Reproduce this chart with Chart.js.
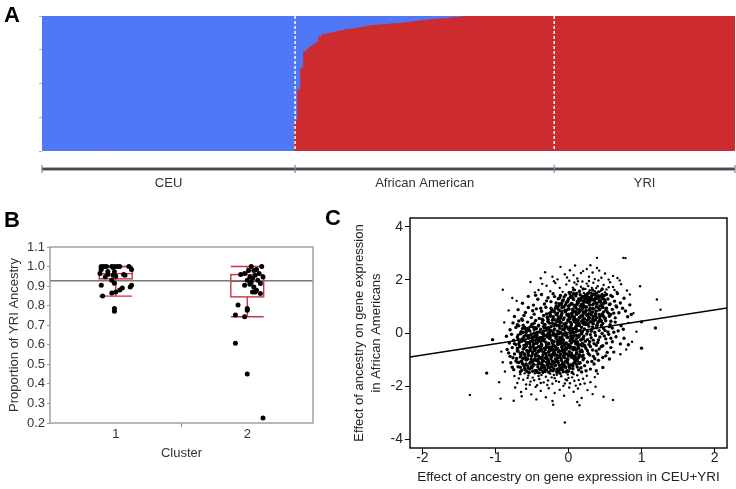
<!DOCTYPE html>
<html>
<head>
<meta charset="utf-8">
<script src="https://cdn.jsdelivr.net/npm/chart.js@4.4.1/dist/chart.umd.min.js"></script>
<style>
  html, body { margin: 0; padding: 0; background: #fff; }
  body { width: 736px; height: 489px; position: relative; overflow: hidden; }
  canvas { position: absolute; }
  .panel-letter { position: absolute; font: bold 22px "Liberation Sans", Arial, sans-serif; line-height: 22px; color: #000; }
</style>
</head>
<body>
<canvas id="chartA" width="736" height="200" style="left:0;top:0"></canvas>
<canvas id="chartB" width="325" height="289" style="left:0;top:200px"></canvas>
<canvas id="chartC" width="406" height="289" style="left:330px;top:200px"></canvas>
<div class="panel-letter" style="left:4px;top:4px">A</div>
<div class="panel-letter" style="left:4px;top:209px">B</div>
<div class="panel-letter" style="left:325px;top:207px">C</div>
<script>
// ---------- Panel A: proportion of YRI ancestry per individual ----------
const groupNames = ['CEU', 'African American', 'YRI'];
const ceuYri = [0,0,0,0,0,0,0,0,0,0,0,0,0,0,0,0,0,0,0,0,0,0,0,0,0,0,0,0,0,0,0,0,0,0,0,0,0,0,0,0,0,0,
  0,0,0,0,0,0,0,0,0,0,0,0,0,0,0,0,0,0,0,0,0,0,0,0,0,0,0,0,0,0,0,0,0,0,0,0,0,0,0,0,0,0];
const aaYri = [0.22,0.45,0.61,0.73,0.75,0.77,0.78,0.80,0.84,0.86,
  0.86,0.867,0.87,0.876,0.88,0.886,0.89,0.896,0.896,0.90,
  0.905,0.909,0.912,0.916,0.92,0.924,0.926,0.928,0.93,0.932,
  0.933,0.935,0.937,0.938,0.94,0.942,0.945,0.948,0.95,0.953,
  0.956,0.96,0.962,0.964,0.966,0.968,0.97,0.972,0.974,0.976,
  0.978,0.98,0.982,0.984,0.986,0.988,0.99,0.992,0.994,0.996,
  0.997,0.998,0.999,1,1,1,1,1,1,1,1,1,1,1,1,1,1,1,1,1,1,1,1,1,1,1];
const yriYri = [1,1,1,1,1,1,1,1,1,1,1,1,1,1,1,1,1,1,1,1,1,1,1,1,1,1,1,1,1,1,
  1,1,1,1,1,1,1,1,1,1,1,1,1,1,1,1,1,1,1,1,1,1,1,1,1,1,1,1,1,1];
const aTicksY = [0, 0.25, 0.5, 0.75, 1];

// ---------- Panel B: YRI ancestry by cluster ----------
const clusters = [1, 2];
const bTicksY = [0.2, 0.3, 0.4, 0.5, 0.6, 0.7, 0.8, 0.9, 1.0, 1.1];
const cluster1Pts = [[0.89,1.00],[0.91,1.00],[0.93,1.00],[0.97,1.00],[0.99,1.00],[1.01,1.00],[1.03,1.00],[1.10,1.00],[0.98,0.995],
  [0.89,0.985],[1.12,0.985],[0.94,0.975],[0.99,0.973],[0.88,0.965],[0.94,0.96],[1.06,0.96],[0.98,0.955],[0.92,0.948],[1.07,0.956],[1.00,0.95],
  [0.97,0.93],[0.99,0.915],[0.89,0.905],[1.12,0.905],[1.11,0.895],[1.05,0.89],[1.03,0.88],[0.97,0.865],[0.90,0.85],[1.00,0.87],[0.99,0.785],[0.99,0.772]];
const cluster2Pts = [[2.11,1.00],[2.03,1.00],[2.07,0.985],[2.05,0.98],[2.01,0.98],[1.98,0.965],[1.95,0.96],[2.09,0.965],[2.12,0.947],[2.02,0.947],
  [2.04,0.94],[2.00,0.93],[2.02,0.91],[2.05,0.896],[1.98,0.905],[2.10,0.913],[2.07,0.879],[2.10,0.862],[2.06,0.87],[2.03,0.92],[2.08,0.93],
  [1.93,0.803],[2.00,0.786],[2.00,0.776],[1.91,0.752],[1.98,0.743],[1.91,0.608],[2.00,0.451],[2.12,0.225],[2.04,0.87],[2.06,0.955]];
const boxLow = [0.849, 0.743];
const boxQ1 = [0.937, 0.845];
const boxMedian = [0.964, 0.925];
const boxQ3 = [1.0, 0.959];
const boxHigh = [1.0, 1.0];
const grandMean = 0.927;

// ---------- Panel C: ancestry effect on expression, per gene ----------
const cTicksX = [-2, -1, 0, 1, 2];
const cTicksY = [-4, -2, 0, 2, 4];
const fitSlope = 0.425;
const fitIntercept = 0.02;
// sparse outer part of the cloud
const cloudHigh = [[.39,2.83],[.75,2.83],[.78,2.82],[-.11,2.49],[.09,2.54],[-.32,2.29],[.39,2.45],[.50,2.24],[.20,2.33],[.28,2.12],[-.05,2.21],[.12,2.05],[.33,2.28],[-.22,2.12],
  [.45,2.08],[.02,2.36],[.61,2.15],[-.15,2.02],[.25,2.41],[.07,2.18],[.55,2.01],[-.38,2.06],[.17,2.26],[.36,2.03],[-.02,2.09],[.67,2.07],[.42,2.35],[.30,2.55]];
const cloudUpper = [[-.52,1.92],[-.41,1.62],[-.30,1.78],[-.18,1.88],[-.08,1.55],[.01,1.97],[.06,1.71],[.11,1.83],[.15,1.59],[.19,1.94],[.23,1.66],[.27,1.77],[.31,1.52],
  [.34,1.89],[.38,1.69],[.41,1.98],[.44,1.58],[.48,1.81],[.52,1.64],[.57,1.91],[.61,1.73],[.66,1.55],[.72,1.84],[.80,1.60],[-.25,1.57],[-.12,1.70],[-.03,1.83],[.04,1.54],
  [.09,1.62],[.13,1.95],[.17,1.74],[.21,1.51],[.25,1.86],[.29,1.61],[.32,1.70],[.36,1.57],[.40,1.76],[.46,1.67],[.50,1.53],[.55,1.72],[-.46,1.53],[-.20,1.95],[.70,1.98],
  [.63,1.62],[-.36,1.85],[.08,1.90],[.28,1.96]];
const cloudLow = [[-.74,-1.62],[-.70,-1.88],[-.66,-1.55],[-.62,-1.76],[-.58,-1.94],[-.55,-1.60],[-.52,-1.83],[-.49,-1.68],[-.46,-1.52],[-.43,-1.97],[-.40,-1.73],
  [-.37,-1.58],[-.34,-1.86],[-.31,-1.65],[-.28,-1.79],[-.25,-1.53],[-.22,-1.91],[-.19,-1.70],[-.16,-1.57],[-.13,-1.84],[-.10,-1.63],[-.07,-1.99],[-.04,-1.75],[-.01,-1.56],
  [.02,-1.89],[.05,-1.67],[.08,-1.80],[.12,-1.59],[.16,-1.93],[.20,-1.72],[.25,-1.61],[.30,-1.85],[.36,-1.66],[-.68,-1.71],[-.60,-1.52],[-.53,-1.95],[-.47,-1.78],[-.41,-1.62],
  [-.35,-1.50],[-.29,-1.96],[-.23,-1.67],[-.17,-1.81],[-.11,-1.54],[-.05,-1.90],[.00,-1.69],[.07,-1.55],[.14,-1.77],[.22,-1.90],[.40,-1.53],[-.95,-1.85],[-.56,-1.69],
  [-.38,-1.88],[-.20,-1.58],[-.02,-1.78],[.10,-1.98]];
const cloudBottom = [[-.73,-2.05],[-.65,-2.22],[-.58,-2.10],[-.51,-2.31],[-.45,-2.03],[-.38,-2.18],[-.31,-2.42],[-.27,-2.08],[-.19,-2.26],[-.12,-2.14],[-.06,-2.36],
  [.01,-2.05],[.07,-2.21],[.13,-2.09],[.18,-2.45],[.26,-2.15],[.33,-2.30],[.12,-2.60],[-.44,-2.50],[-.64,-2.38],[-1.35,-2.33],[-.93,-2.47],[-.75,-2.55],[-.22,-2.56],
  [.15,-2.72],[-.21,-2.70],[.61,-2.52],[.48,-2.40],[-.05,-3.37],[.37,-2.02]];
const cloudEdges = [[.98,1.76],[1.21,1.26],[1.26,.88],[.84,1.45],[.89,.75],[.82,.38],[.93,.05],[.87,-.33],[.79,-.62],[.71,-.80],
  [-.90,1.63],[-.77,1.32],[-.71,1.21],[-.82,.85],[-.88,.40],[-.92,-.70],[-.90,-1.10],[-.87,-1.45]];
// body of the cloud
const cloudUpperMid = [[-.63,1.12],[-.55,1.38],[-.48,1.05],[-.42,1.27],[-.37,1.45],[-.33,1.09],[-.28,1.33],[-.24,1.18],[-.21,1.48],[-.17,1.02],[-.14,1.29],[-.11,1.41],
  [-.09,1.14],[-.06,1.36],[-.04,1.07],[-.01,1.22],[.02,1.47],[.04,1.11],[.06,1.31],[.08,1.04],[.10,1.39],[.12,1.19],[.14,1.26],[.16,1.44],[.18,1.08],[.19,1.33],[.21,1.16],
  [.23,1.27],[.24,1.42],[.26,1.21],[.27,1.29],[.28,1.13],[.30,1.35],[.31,1.25],[.33,1.06],[.34,1.47],[.36,1.19],[.37,1.31],[.39,1.10],[.41,1.40],[.43,1.23],[.45,1.03],
  [.47,1.34],[.49,1.15],[.52,1.45],[.54,1.28],[.57,1.09],[.60,1.37],[.63,1.20],[.67,1.49],[.71,1.13],[.76,1.31],[.84,1.06],[-.07,1.24],[-.19,1.37],[.00,1.01],[.07,1.48],
  [.13,1.12],[.17,1.23],[.22,1.38],[.25,1.32],[.29,1.18],[.32,1.44],[.35,1.27],[.38,1.37],[.44,1.16],[.50,1.24],[.58,1.41],[-.30,1.21],[-.45,1.42],[.11,1.06],[.03,1.37],
  [.20,1.02],[.26,1.46],[.40,1.30],[.46,1.45],[.65,1.02],[-.13,1.10]];
const cloudMid = [[-.74,.62],[-.69,.88],[-.64,.53],[-.59,.77],[-.55,.96],[-.51,.58],[-.47,.71],[-.44,.91],[-.40,.55],[-.37,.82],[-.34,.66],[-.31,.97],[-.28,.52],[-.26,.75],
  [-.23,.88],[-.21,.61],[-.18,.93],[-.16,.70],[-.14,.54],[-.12,.84],[-.10,.65],[-.08,.99],[-.06,.57],[-.04,.79],[-.02,.68],[.00,.91],[.02,.53],[.04,.74],[.06,.86],[.08,.60],
  [.10,.95],[.11,.71],[.13,.50],[.15,.82],[.17,.64],[.19,.92],[.21,.56],[.23,.77],[.25,.98],[.27,.62],[.29,.85],[.31,.69],[.33,.51],[.35,.90],[.37,.73],[.39,.58],[.42,.87],
  [.44,.66],[.47,.96],[.50,.54],[.53,.80],[.56,.63],[.60,.89],[.64,.57],[.69,.76],[.74,.93],[.81,.61],[-.29,.60],[-.19,.79],[-.09,.73],[.01,.62],[.07,.79],[.12,.90],
  [.16,.57],[.20,.70],[.24,.84],[.28,.55],[.32,.78],[.36,.64],[.40,.97],[.46,.72],[.52,.93],[.58,.70],[-.49,.84],[-.38,.93],[-.15,.97],[-.03,.86],[.05,.66],[.14,.76],
  [.22,.99],[.30,.93],[.34,.60],[.43,.52],[.62,.75],[-.61,.66],[-.25,.68],[-.11,.56],[.09,.52],[.18,.87],[.26,.69],[.48,.61],[.66,.98],[.78,.83],[.86,.70]];
const cloudCentre = [[-.80,.12],[-.76,.38],[-.72,.21],[-.68,.45],[-.65,.05],[-.62,.29],[-.59,.17],[-.56,.41],[-.53,.08],[-.50,.33],[-.48,.22],[-.45,.47],[-.43,.02],
  [-.41,.26],[-.38,.14],[-.36,.39],[-.34,.07],[-.32,.31],[-.30,.19],[-.28,.44],[-.26,.03],[-.24,.24],[-.22,.36],[-.20,.11],[-.18,.49],[-.16,.28],[-.14,.06],[-.12,.18],
  [-.10,.40],[-.08,.13],[-.06,.34],[-.04,.01],[-.02,.23],[.00,.45],[.02,.09],[.04,.30],[.06,.16],[.08,.42],[.10,.04],[.12,.27],[.14,.37],[.16,.10],[.18,.21],[.20,.48],
  [.22,.15],[.24,.32],[.26,.06],[.28,.25],[.30,.43],[.32,.12],[.34,.35],[.36,.02],[.38,.20],[.40,.38],[.42,.09],[.45,.28],[.48,.17],[.51,.46],[.54,.04],[.57,.31],[.60,.19],
  [.64,.41],[.68,.08],[.72,.27],[.75,.14],[-.63,.48],[-.55,.18],[-.47,.37],[-.40,.04],[-.33,.22],[-.27,.17],[-.21,.01],[-.15,.43],[-.09,.26],[-.03,.38],[.03,.19],[.07,.49],
  [.11,.13],[.15,.29],[.19,.05],[.23,.40],[.27,.35],[.31,.07],[.35,.47],[.39,.27],[.44,.44],[.50,.09],[.56,.24],[.62,.03],[-.70,.31],[-.58,.02],[-.44,.16],[-.35,.48],
  [-.25,.10],[-.13,.30],[-.05,.20],[.05,.07],[.13,.46],[.21,.33],[.33,.23],[.47,.36],[.58,.44],[1.19,.19],[1.00,.42]];
const cloudCore = [[-.85,-.12],[-.81,-.38],[-.78,-.05],[-.75,-.27],[-.72,-.44],[-.70,-.15],[-.67,-.33],[-.65,-.02],[-.63,-.21],[-.61,-.47],[-.59,-.09],[-.57,-.36],
  [-.55,-.18],[-.53,-.41],[-.51,-.04],[-.49,-.25],[-.47,-.13],[-.45,-.39],[-.43,-.07],[-.41,-.30],[-.39,-.19],[-.37,-.46],[-.35,-.01],[-.33,-.23],[-.31,-.35],[-.29,-.10],
  [-.27,-.42],[-.25,-.16],[-.23,-.28],[-.21,-.06],[-.19,-.49],[-.17,-.20],[-.15,-.32],[-.13,-.03],[-.11,-.40],[-.09,-.14],[-.07,-.26],[-.05,-.08],[-.03,-.37],[-.01,-.17],
  [.01,-.45],[.03,-.11],[.05,-.29],[.07,-.02],[.09,-.34],[.11,-.21],[.13,-.48],[.15,-.07],[.17,-.24],[.19,-.39],[.21,-.12],[.23,-.31],[.25,-.04],[.28,-.43],[.31,-.18],
  [.34,-.27],[.37,-.09],[.40,-.36],[.43,-.15],[.47,-.48],[.51,-.22],[.55,-.05],[.60,-.33],[.65,-.14],[.71,-.41],[-.74,-.40],[-.64,-.24],[-.58,-.45],[-.52,-.31],[-.46,-.02],
  [-.42,-.22],[-.38,-.33],[-.34,-.12],[-.30,-.47],[-.26,-.03],[-.22,-.38],[-.18,-.11],[-.14,-.43],[-.10,-.24],[-.06,-.45],[-.02,-.06],[.02,-.30],[.06,-.19],[.10,-.41],
  [.14,-.13],[.18,-.03],[.22,-.46],[.26,-.25],[.30,-.06],[.35,-.40],[.41,-.26],[.46,-.02],[.52,-.38],[.58,-.20],[-.69,-.08],[-.60,-.29],[-.54,-.10],[-.48,-.44],[-.44,-.17],
  [-.36,-.26],[-.28,-.02],[-.20,-.34],[-.12,-.18],[-.04,-.42],[.04,-.14],[.12,-.37],[.20,-.22],[.29,-.33],[.38,-.46],[.49,-.11],[-1.04,-.25],[1.00,-.57],[.76,-.20],[.82,-.44]];
const cloudLowerCore = [[-.84,-.62],[-.80,-.88],[-.77,-.55],[-.74,-.79],[-.71,-.96],[-.69,-.68],[-.67,-.52],[-.65,-.85],[-.63,-.73],[-.61,-.59],[-.59,-.92],[-.57,-.66],
  [-.55,-.81],[-.53,-.54],[-.51,-.99],[-.49,-.71],[-.47,-.60],[-.45,-.87],[-.43,-.75],[-.41,-.51],[-.39,-.94],[-.37,-.64],[-.35,-.83],[-.33,-.57],[-.31,-.78],[-.29,-.97],
  [-.27,-.69],[-.25,-.53],[-.23,-.89],[-.21,-.62],[-.19,-.76],[-.17,-.58],[-.15,-.93],[-.13,-.67],[-.11,-.80],[-.09,-.55],[-.07,-.86],[-.05,-.72],[-.03,-.61],[-.01,-.98],
  [.01,-.70],[.03,-.52],[.05,-.84],[.07,-.63],[.09,-.91],[.11,-.74],[.13,-.56],[.15,-.82],[.18,-.65],[.21,-.95],[.24,-.59],[.27,-.77],[.30,-.51],[.34,-.88],[.38,-.68],
  [.42,-.60],[.47,-.92],[.53,-.73],[.58,-.55],[-.82,-.75],[-.76,-.93],[-.70,-.58],[-.66,-.77],[-.62,-.95],[-.58,-.50],[-.54,-.70],[-.50,-.85],[-.46,-.66],[-.42,-.99],
  [-.38,-.56],[-.34,-.73],[-.30,-.88],[-.26,-.60],[-.22,-.81],[-.18,-.52],[-.14,-.71],[-.10,-.96],[-.06,-.64],[-.02,-.79],[.02,-.57],[.06,-.93],[.10,-.62],[.14,-.88],
  [.19,-.71],[.23,-.53],[.29,-.83],[.33,-.64],[.40,-.79],[.45,-.51],[.51,-.86],[-.60,-.81],[-.52,-.62],[-.44,-.78],[-.36,-.91],[-.28,-.55],[-.20,-.69],[-.12,-.87],
  [-.04,-.54],[.04,-.76],[.12,-.98],[.20,-.84],[.26,-.67],[.36,-.97],[-.56,-.97],[-.48,-.53],[-.40,-.69],[-.32,-.64],[-.24,-.97],[-.16,-.83],[-.08,-.63],[.00,-.87],
  [.08,-.54],[.16,-.70],[.56,-.98],[.62,-.72]];
const cloudLower = [[-.79,-1.12],[-.75,-1.38],[-.72,-1.05],[-.69,-1.27],[-.66,-1.46],[-.63,-1.16],[-.60,-1.33],[-.58,-1.02],[-.56,-1.24],[-.54,-1.49],[-.52,-1.09],
  [-.50,-1.31],[-.48,-1.18],[-.46,-1.42],[-.44,-1.04],[-.42,-1.27],[-.40,-1.14],[-.38,-1.37],[-.36,-1.01],[-.34,-1.22],[-.32,-1.45],[-.30,-1.10],[-.28,-1.29],[-.26,-1.16],
  [-.24,-1.40],[-.22,-1.06],[-.20,-1.34],[-.18,-1.21],[-.16,-1.48],[-.14,-1.11],[-.12,-1.26],[-.10,-1.03],[-.08,-1.39],[-.06,-1.17],[-.04,-1.30],[-.02,-1.08],[.00,-1.44],
  [.03,-1.20],[.06,-1.35],[.09,-1.05],[.12,-1.28],[.15,-1.14],[.18,-1.47],[.22,-1.23],[.26,-1.09],[.30,-1.36],[.35,-1.17],[.41,-1.03],[.47,-1.30],[-.77,-1.29],[-.70,-1.10],
  [-.64,-1.40],[-.59,-1.19],[-.53,-1.36],[-.47,-1.02],[-.43,-1.48],[-.37,-1.19],[-.33,-1.33],[-.27,-1.05],[-.23,-1.25],[-.17,-1.08],[-.13,-1.41],[-.07,-1.24],[-.01,-1.13],
  [.05,-1.49],[.11,-1.18],[.17,-1.31],[.24,-1.42],[.32,-1.07],[-.65,-1.07],[-.57,-1.45],[-.49,-1.22],[-.41,-1.08],[-.35,-1.44],[-.29,-1.20],[-.21,-1.15],[-.15,-1.35],
  [-.09,-1.18],[-.03,-1.47],[.01,-1.27],[.08,-1.12],[.14,-1.39],[.20,-1.01],[.38,-1.42],[-1.12,-1.51]];
// darkest parts of the cloud: lower-left core and upper-right lobe
const denseLow = [[-.68,.27],[-.52,.24],[-.41,.29],[-.27,.21],[-.13,.26],[.02,.23],[.15,.28],[-.63,.17],[-.47,.13],[-.33,.19],[-.19,.15],[-.06,.11],[.09,.17],[-.58,.08],
  [-.39,.05],[-.24,.09],[-.11,.03],[.05,.06],[.18,.01],[-.66,-.03],[-.51,-.06],[-.36,-.02],[-.21,-.08],[-.08,-.04],[.11,-.09],[-.61,-.13],[-.44,-.11],[-.29,-.15],
  [-.16,-.12],[-.02,-.16],[.14,-.14],[-.69,-.22],[-.55,-.19],[-.40,-.24],[-.26,-.21],[-.12,-.26],[.03,-.23],[.17,-.27],[-.64,-.31],[-.49,-.34],[-.34,-.29],[-.20,-.32],
  [-.07,-.36],[.08,-.30],[-.58,-.42],[-.43,-.39],[-.30,-.44],[-.15,-.41],[.00,-.45],[.13,-.40],[-.67,-.49],[-.52,-.52],[-.37,-.48],[-.23,-.54],[-.09,-.50],[.06,-.55],
  [.19,-.49],[-.62,-.60],[-.46,-.63],[-.32,-.58],[-.17,-.62],[-.03,-.59],[.11,-.64],[-.70,-.68],[-.56,-.71],[-.41,-.67],[-.27,-.73],[-.12,-.69],[.02,-.74],[.16,-.70],
  [-.60,-.79],[-.45,-.82],[-.31,-.78],[-.19,-.84],[-.05,-.80],[.09,-.85],[-.66,-.90],[-.51,-.88],[-.38,-.93],[-.24,-.89],[-.10,-.95],[.04,-.91],[.18,-.88],[-.57,-1.00],
  [-.43,-1.03],[-.29,-.99],[-.15,-1.04],[-.01,-1.01],[.12,-1.06],[-.68,-1.11],[-.53,-1.14],[-.36,-1.10],[-.22,-1.15],[-.08,-1.12],[.06,-1.17],[-.61,-1.23],[-.47,-1.20],
  [-.33,-1.26],[-.18,-1.22],[-.04,-1.27],[-.55,-1.33],[-.40,-1.36],[-.26,-1.31],[-.12,-1.37],[.02,-1.33],[-.49,-1.44],[-.35,-1.47],[-.21,-1.42],[-.07,-1.46],
  [-.60,.22],[-.45,.20],[-.34,.25],[-.20,.27],[-.05,.19],[.10,.24],[-.55,.12],[-.30,.10],[-.15,.07],[.00,.14],[.13,.08],[-.62,.03],[-.47,.00],[-.28,-.05],[-.14,.00],
  [.03,-.01],[-.56,-.10],[-.33,-.07],[-.18,-.05],[.07,-.12],[-.50,-.17],[-.37,-.18],[-.09,-.19],[.20,-.20],[-.60,-.26],[-.45,-.28],[-.15,-.28],[.12,-.33],[-.54,-.36],
  [-.27,-.38],[-.11,-.33],[.04,-.38],[-.68,-.40],[-.37,-.42],[-.21,-.46],[-.06,-.43],[.16,-.45],[-.60,-.53],[-.44,-.56],[-.30,-.51],[-.15,-.57],[.00,-.52],[.14,-.58],
  [-.53,-.66],[-.38,-.61],[-.24,-.65],[-.09,-.67],[.06,-.62],[-.64,-.75],[-.49,-.76],[-.35,-.72],[-.21,-.77],[-.07,-.73],[.11,-.77],[-.55,-.85],[-.41,-.87],[-.26,-.83],
  [-.13,-.89],[.01,-.84],[.14,-.93],[-.62,-.96],[-.46,-.97],[-.32,-.94],[-.18,-.98],[-.05,-.93],[.08,-.98],[-.64,-1.05],[-.49,-1.08],[-.34,-1.05],[-.19,-1.09],[-.04,-1.06],
  [.16,-1.12],[-.58,-1.17],[-.42,-1.19],[-.27,-1.17],[-.13,-1.20],[.01,-1.21],[-.66,-1.29],[-.51,-1.27],[-.37,-1.30],[-.23,-1.27],[-.09,-1.31],[.06,-1.25],[-.59,-1.39],
  [-.44,-1.41],[-.30,-1.39],[-.16,-1.40],[-.02,-1.42],[-.54,-1.49],[-.40,-1.50],[-.27,-1.48],[-.12,-1.51]];
const denseHigh = [[-.33,.32],[-.18,.35],[-.04,.31],[.11,.36],[.25,.33],[.39,.30],[-.28,.42],[-.12,.45],[.03,.40],[.18,.44],[.32,.41],[.45,.46],[-.36,.52],[-.21,.55],
  [-.07,.51],[.08,.56],[.22,.53],[.37,.50],[.50,.57],[-.25,.63],[-.10,.66],[.05,.61],[.19,.65],[.34,.62],[.47,.67],[-.30,.72],[-.15,.75],[.00,.71],[.14,.76],[.28,.73],
  [.42,.70],[.55,.74],[-.20,.83],[-.05,.86],[.10,.81],[.24,.85],[.38,.82],[.51,.87],[-.24,.93],[-.09,.95],[.06,.91],[.20,.96],[.33,.92],[.47,.97],[-.13,1.03],[.02,1.06],
  [.16,1.01],[.29,1.05],[.43,1.02],[.56,1.07],[-.17,1.13],[-.03,1.15],[.12,1.11],[.25,1.16],[.38,1.12],[.51,1.14],[-.08,1.23],[.07,1.26],[.21,1.22],[.29,1.27],[.34,1.24],
  [.47,1.28],[-.12,1.33],[.03,1.35],[.17,1.31],[.26,1.36],[.31,1.32],[.43,1.35],[-.04,1.43],[.10,1.46],[.23,1.42],[.36,1.45],[.49,1.41],[.01,1.53],[.15,1.56],[.28,1.52],
  [.41,1.55],[.07,1.63],[.20,1.66],[.33,1.62],[.46,1.65],
  [-.26,.37],[-.11,.38],[.04,.34],[.19,.39],[.33,.37],[-.22,.48],[-.01,.49],[.12,.47],[.26,.48],[.41,.43],[-.29,.58],[-.14,.60],[.01,.57],[.15,.59],[.29,.58],[.43,.61],
  [-.17,.69],[-.02,.68],[.11,.70],[.25,.67],[.37,.68],[-.24,.78],[-.09,.80],[.06,.78],[.20,.79],[.33,.79],[.48,.79],[-.14,.89],[.01,.90],[.15,.88],[.29,.89],[.43,.90],
  [-.06,.99],[.09,1.00],[.24,.98],[.38,.99],[-.10,1.08],[.05,1.09],[.20,1.07],[.34,1.09],[.47,1.08],[-.01,1.18],[.14,1.19],[.28,1.18],[.42,1.19],[.00,1.29],[.14,1.28],
  [.24,1.30],[.37,1.29],[.05,1.39],[.19,1.38],[.32,1.39],[.45,1.38],[.11,1.49],[.26,1.48],[.38,1.50]];

// ---------- shared ----------
const FONT = '"Liberation Sans", Arial, sans-serif';
Chart.defaults.font.family = FONT;
Chart.defaults.color = '#222';
Chart.defaults.animation = false;
Chart.defaults.events = [];
Chart.defaults.plugins.legend.display = false;
Chart.defaults.plugins.tooltip.enabled = false;

const YRI_RED = '#cc2c30';
const CEU_BLUE = '#5077f6';

function asPoints(list) {
  return list.map(p => ({x: p[0], y: p[1]}));
}

// frame around the plot area (panels B and C)
const plotFrame = {
  id: 'plotFrame',
  afterDraw(chart, args, opts) {
    const {ctx, chartArea: a} = chart;
    ctx.save();
    ctx.strokeStyle = opts.color;
    ctx.lineWidth = opts.width;
    ctx.strokeRect(a.left, a.top, a.right - a.left, a.bottom - a.top);
    ctx.restore();
  }
};

// ---------- Panel A ----------
const allYri = ceuYri.concat(aaYri, yriYri);
const groupSizes = [ceuYri.length, aaYri.length, yriYri.length];
const labelsA = allYri.map((v, i) => 'ind' + (i + 1));

const groupAxis = {
  id: 'groupAxis',
  afterDraw(chart) {
    const {ctx, chartArea: a, scales: {x}} = chart;
    // pixel borders between groups
    const edges = [a.left];
    let idx = 0;
    for (let g = 0; g < groupSizes.length - 1; g++) {
      idx += groupSizes[g];
      edges.push((x.getPixelForValue(idx - 1) + x.getPixelForValue(idx)) / 2);
    }
    edges.push(a.right);

    ctx.save();
    // dashed white dividers
    ctx.strokeStyle = '#fff';
    ctx.lineWidth = 1.5;
    ctx.setLineDash([3, 2]);
    for (let i = 1; i < edges.length - 1; i++) {
      ctx.beginPath();
      ctx.moveTo(edges[i], a.top);
      ctx.lineTo(edges[i], a.bottom);
      ctx.stroke();
    }
    ctx.setLineDash([]);

    // group axis below the plot
    const yLine = a.bottom + 18;
    ctx.strokeStyle = '#a9b0bb';
    ctx.lineWidth = 4;
    ctx.beginPath(); ctx.moveTo(a.left, yLine); ctx.lineTo(a.right, yLine); ctx.stroke();
    ctx.strokeStyle = '#4a4a4a';
    ctx.lineWidth = 2;
    ctx.beginPath(); ctx.moveTo(a.left, yLine); ctx.lineTo(a.right, yLine); ctx.stroke();
    ctx.strokeStyle = '#7d8aa0';
    ctx.lineWidth = 1.2;
    edges.forEach(e => {
      ctx.beginPath(); ctx.moveTo(e, yLine - 4); ctx.lineTo(e, yLine + 4); ctx.stroke();
    });

    ctx.fillStyle = '#333';
    ctx.font = '13px ' + FONT;
    ctx.textAlign = 'center';
    ctx.textBaseline = 'middle';
    groupNames.forEach((name, g) => {
      ctx.fillText(name, (edges[g] + edges[g + 1]) / 2, yLine + 14);
    });
    ctx.restore();
  }
};

// overlap neighbouring bars by a pixel so no seams show; empty bars stay empty
const barInflate = c => (c.raw > 0 ? 1 : 0);

new Chart(document.getElementById('chartA'), {
  type: 'bar',
  data: {
    labels: labelsA,
    datasets: [
      { label: 'YRI', data: allYri, backgroundColor: YRI_RED, borderWidth: 0, inflateAmount: barInflate,
        barPercentage: 1, categoryPercentage: 1 },
      { label: 'CEU', data: allYri.map(v => 1 - v), backgroundColor: CEU_BLUE, borderWidth: 0, inflateAmount: barInflate,
        barPercentage: 1, categoryPercentage: 1 }
    ]
  },
  options: {
    responsive: false,
    layout: { padding: { top: 16, right: 1, bottom: 49, left: 0 } },
    scales: {
      x: { stacked: true, display: false },
      y: {
        stacked: true, min: 0, max: 1,
        afterBuildTicks: s => { s.ticks = aTicksY.map(v => ({value: v})); },
        afterFit: s => { s.width = 42; },
        ticks: { display: false },
        grid: { drawOnChartArea: false, tickLength: 3, color: '#a8b2c8' },
        border: { display: false }
      }
    }
  },
  plugins: [groupAxis]
});

// ---------- Panel B ----------
const boxPlots = {
  id: 'boxPlots',
  beforeDatasetsDraw(chart) {
    const {ctx, scales: {x, y}} = chart;
    const half = 0.125;
    ctx.save();
    ctx.strokeStyle = '#cc3344';
    ctx.lineWidth = 1.4;
    clusters.forEach((c, i) => {
      const xl = x.getPixelForValue(c - half), xr = x.getPixelForValue(c + half), xm = x.getPixelForValue(c);
      const yq1 = y.getPixelForValue(boxQ1[i]), yq3 = y.getPixelForValue(boxQ3[i]);
      const ymed = y.getPixelForValue(boxMedian[i]);
      const ylo = y.getPixelForValue(boxLow[i]), yhi = y.getPixelForValue(boxHigh[i]);
      ctx.strokeRect(xl, yq3, xr - xl, yq1 - yq3);
      ctx.beginPath();
      ctx.moveTo(xl, ymed); ctx.lineTo(xr, ymed);
      ctx.moveTo(xm, yq1); ctx.lineTo(xm, ylo);
      ctx.moveTo(xm, yq3); ctx.lineTo(xm, yhi);
      ctx.moveTo(xl, ylo); ctx.lineTo(xr, ylo);
      ctx.moveTo(xl, yhi); ctx.lineTo(xr, yhi);
      ctx.stroke();
    });
    ctx.restore();
  }
};

const bXMin = 0.5, bXMax = 2.5;
new Chart(document.getElementById('chartB'), {
  type: 'scatter',
  data: {
    datasets: [
      { label: 'Cluster 1', data: asPoints(cluster1Pts), backgroundColor: '#000', borderWidth: 0, pointRadius: 2.5, order: 0 },
      { label: 'Cluster 2', data: asPoints(cluster2Pts), backgroundColor: '#000', borderWidth: 0, pointRadius: 2.5, order: 0 },
      { type: 'line', label: 'Mean', data: [{x: bXMin, y: grandMean}, {x: bXMax, y: grandMean}],
        borderColor: '#777', borderWidth: 1.5, pointRadius: 0, order: 1 }
    ]
  },
  options: {
    responsive: false,
    layout: { padding: { top: 47, right: 12, bottom: 0, left: 0 } },
    scales: {
      x: {
        type: 'linear', min: bXMin, max: bXMax,
        afterBuildTicks: s => { s.ticks = [1, 1.5, 2].map(v => ({value: v})); },
        afterFit: s => { s.height = 66; },
        ticks: { font: { size: 13 }, color: '#333', padding: 0, maxRotation: 0,
                 callback: v => clusters.includes(v) ? String(v) : '' },
        grid: { drawOnChartArea: false, tickLength: 4,
                tickColor: c => (c.tick && clusters.includes(c.tick.value)) ? 'rgba(0,0,0,0)' : '#888' },
        border: { display: false },
        title: { display: true, text: 'Cluster', font: { size: 13 }, color: '#333', padding: { top: 0, bottom: 28 } }
      },
      y: {
        min: 0.2, max: 1.1,
        afterBuildTicks: s => { s.ticks = bTicksY.map(v => ({value: v})); },
        afterFit: s => { s.width = 50; },
        ticks: { font: { size: 13 }, color: '#333', padding: 2, callback: v => v.toFixed(1) },
        grid: { drawOnChartArea: false, tickLength: 3, color: '#999' },
        border: { display: false },
        title: { display: true, text: 'Proportion of YRI Ancestry', font: { size: 13 }, color: '#333', padding: { top: 7, bottom: 0 } }
      }
    },
    plugins: { plotFrame: { color: '#a0a0a0', width: 1.5 } }
  },
  plugins: [boxPlots, plotFrame]
});

// ---------- Panel C ----------
const sparseGenes = [].concat(cloudHigh, cloudUpper, cloudLow, cloudBottom, cloudEdges);
const denseGenes = [].concat(cloudUpperMid, cloudMid, cloudCentre, cloudCore, cloudLowerCore, cloudLower, denseLow, denseHigh);
const cXMin = -2.17, cXMax = 2.17;

new Chart(document.getElementById('chartC'), {
  type: 'scatter',
  data: {
    datasets: [
      { label: 'Genes (outer)', data: asPoints(sparseGenes), backgroundColor: '#000', borderWidth: 0, pointRadius: 1.2 },
      { label: 'Genes', data: asPoints(denseGenes), backgroundColor: '#000', borderWidth: 0, pointRadius: 1.7 },
      { type: 'line', label: 'Fit',
        data: [cXMin, cXMax].map(v => ({x: v, y: fitIntercept + fitSlope * v})),
        borderColor: '#000', borderWidth: 1.4, pointRadius: 0 }
    ]
  },
  options: {
    responsive: false,
    layout: { padding: { top: 18, right: 9, bottom: 0, left: 0 } },
    scales: {
      x: {
        type: 'linear', min: cXMin, max: cXMax,
        afterBuildTicks: s => { s.ticks = cTicksX.map(v => ({value: v})); },
        afterFit: s => { s.height = 41; },
        ticks: { font: { size: 14 }, color: '#222', padding: -3, maxRotation: 0 },
        grid: { drawOnChartArea: false, tickLength: 5, color: '#000' },
        border: { display: false },
        title: { display: true, text: 'Effect of ancestry on gene expression in CEU+YRI',
                 font: { size: 13.5 }, color: '#222', padding: { top: 0, bottom: 4 } }
      },
      y: {
        min: -4.33, max: 4.33,
        afterBuildTicks: s => { s.ticks = cTicksY.map(v => ({value: v})); },
        afterFit: s => { s.width = 80; },
        ticks: { font: { size: 14 }, color: '#222', padding: 2 },
        grid: { drawOnChartArea: false, tickLength: 5, color: '#000' },
        border: { display: false },
        title: { display: true, text: ['Effect of ancestry on gene expression', 'in African Americans'],
                 font: { size: 13, lineHeight: 1.28 }, color: '#222', padding: { top: 21, bottom: 0 } }
      }
    },
    plugins: { plotFrame: { color: '#000', width: 1.4 } }
  },
  plugins: [plotFrame]
});
</script>
</body>
</html>
